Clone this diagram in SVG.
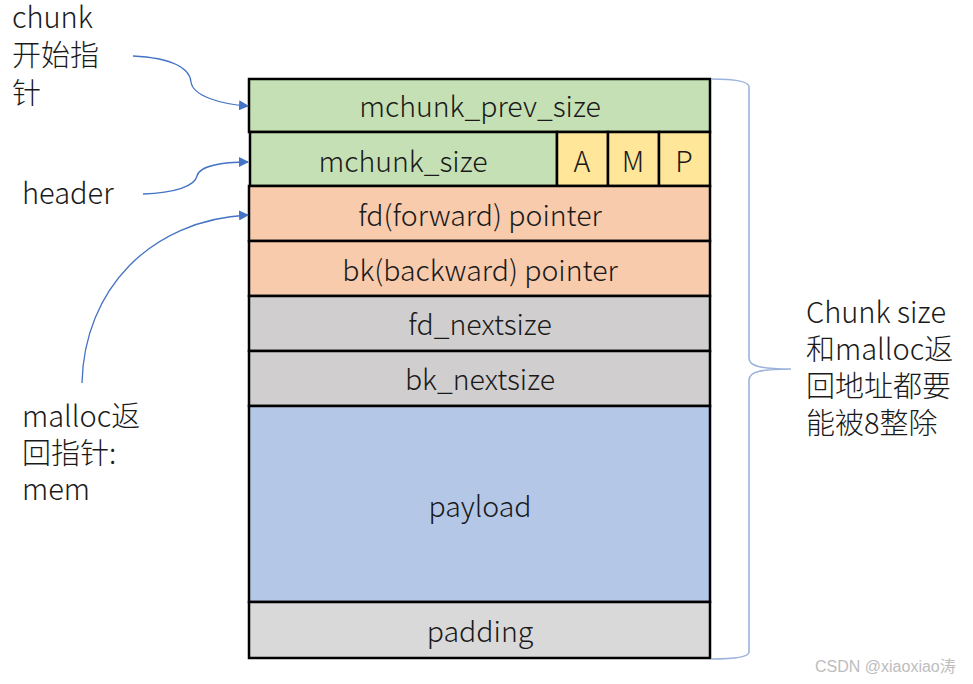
<svg xmlns="http://www.w3.org/2000/svg" width="973" height="684" viewBox="0 0 973 684">
<style>
text{font-family:"Noto Sans CJK SC","Noto Sans",sans-serif;fill:#1a1a1a;font-weight:300}
.cell{stroke:#000;stroke-width:2.5}
.lbl{font-size:28.5px;text-anchor:middle}
.side{font-size:29px}
.green{fill:#C5E0B4}.yellow{fill:#FFE699}.orange{fill:#F8CBAD}.gray{fill:#D0CECE}.lgray{fill:#D9D9D9}.blue{fill:#B4C7E7}
.conn{fill:none;stroke:#4472C4;stroke-width:1.3;marker-end:url(#ah)}
</style>
<defs>
<marker id="ah" viewBox="0 0 10 10" refX="9" refY="5" markerWidth="10" markerHeight="10" markerUnits="userSpaceOnUse" orient="auto">
<path d="M0,0 L10,5 L0,10 z" fill="#4472C4"/>
</marker>
</defs>
<rect width="973" height="684" fill="#fff"/>
<g id="prev_size"><rect class="cell green" x="249" y="79" width="461" height="53"/><text class="lbl" x="480" y="117">mchunk_prev_size</text></g>
<g id="size"><rect class="cell green" x="250" y="132" width="307" height="54"/><text class="lbl" x="403" y="172">mchunk_size</text></g>
<g id="flagA"><rect class="cell yellow" x="557" y="132" width="51" height="54"/><text class="lbl" x="582" y="172">A</text></g>
<g id="flagM"><rect class="cell yellow" x="608" y="132" width="51" height="54"/><text class="lbl" x="633" y="172">M</text></g>
<g id="flagP"><rect class="cell yellow" x="659" y="132" width="51" height="54"/><text class="lbl" x="684" y="172">P</text></g>
<g id="fd"><rect class="cell orange" x="249" y="186" width="461" height="55"/><text class="lbl" x="480" y="226">fd(forward) pointer</text></g>
<g id="bk"><rect class="cell orange" x="249" y="241" width="461" height="55"/><text class="lbl" x="480" y="281">bk(backward) pointer</text></g>
<g id="fd_nextsize"><rect class="cell gray" x="249" y="296" width="461" height="55"/><text class="lbl" x="480" y="335">fd_nextsize</text></g>
<g id="bk_nextsize"><rect class="cell gray" x="249" y="351" width="461" height="55"/><text class="lbl" x="480" y="390">bk_nextsize</text></g>
<g id="payload"><rect class="cell blue" x="249" y="406" width="461" height="196"/><text class="lbl" x="480" y="517">payload</text></g>
<g id="padding"><rect class="cell lgray" x="249" y="602" width="461" height="56"/><text class="lbl" x="480" y="642">padding</text></g>
<g id="label_chunk"><text class="side" x="12" y="28">chunk</text><text class="side" x="12" y="66">开始指</text><text class="side" x="12" y="104">针</text></g>
<g id="label_header"><text class="side" x="22" y="204">header</text></g>
<g id="label_mem"><text class="side" x="22" y="427">malloc返</text><text class="side" x="22" y="464">回指针:</text><text class="side" x="22" y="500">mem</text></g>
<g id="label_note"><text class="side" x="806" y="323">Chunk size</text><text class="side" x="806" y="360">和malloc返</text><text class="side" x="806" y="397">回地址都要</text><text class="side" x="806" y="434">能被8整除</text></g>
<g id="brace"><path d="M711,79 C735,79 749,81 749,87 L749,358 C749,366 760,369 791,369 C760,369 749,372 749,380 L749,652 C749,657 735,659 711,659" fill="none" stroke="#9DB3DB" stroke-width="1.6"/></g>
<g id="connectors">
<path class="conn" d="M133,56 C172,58 190,68 191,82 C193,96 220,104 248,106"/>
<path class="conn" d="M143,194 C175,193 195,186 197,176 C199,166 222,162 248,162"/>
<path class="conn" d="M82,383 C84,290 150,220 248,215"/>
</g>
<text x="815" y="672" style="font-family:'Liberation Sans','Noto Sans CJK SC',sans-serif;font-size:16px;fill:#bdbdbd;font-weight:400">CSDN @xiaoxiao涛</text>
</svg>
